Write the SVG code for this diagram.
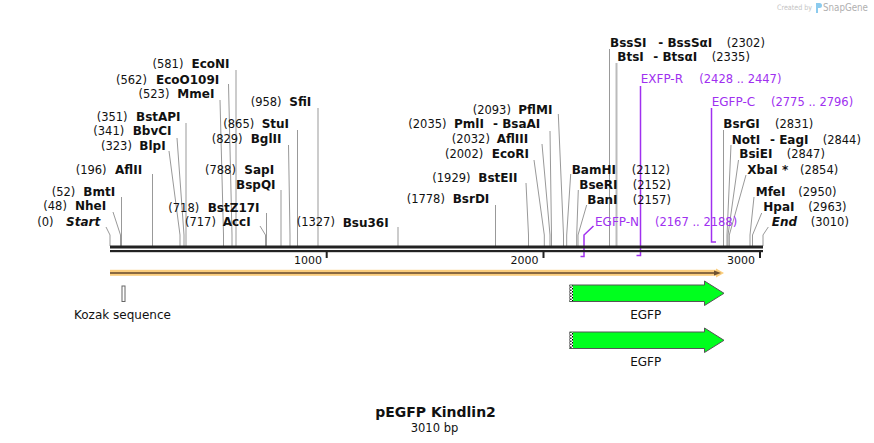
<svg xmlns="http://www.w3.org/2000/svg" width="874" height="443" viewBox="0 0 874 443">
<defs>
<style>
text{font-family:"DejaVu Sans","Liberation Sans",sans-serif;fill:#111}
.n{font-size:11.5px;font-weight:normal}
.b{font-size:12px;font-weight:bold}
.i{font-size:12px;font-weight:bold;font-style:italic}
.p{font-size:12px;fill:#a030f0}
.pn{font-size:11.5px;fill:#a030f0}
.cut{fill:none;stroke:#999;stroke-width:1}
.pr{fill:none;stroke:#a030f0;stroke-width:1.5}
.tk{font-size:11px}
.feat{font-size:12px}
</style>
<pattern id="hatch" width="4" height="3" patternUnits="userSpaceOnUse">
<rect width="4" height="3" fill="#fff"/>
<rect x="0" y="0" width="1.3" height="1.5" fill="#000"/>
<rect x="2.2" y="1.5" width="1.3" height="1.5" fill="#000"/>
</pattern>
</defs>
<rect width="874" height="443" fill="#fff"/>

<g id="logo">
<text x="777" y="10" textLength="35" lengthAdjust="spacingAndGlyphs" style="font-size:7.5px;fill:#c4c4c4">Created by</text>
<path d="M816,3 h3.5 a2.5,2.5 0 0 1 0,5 h-1.5 v5 h-2 z" fill="#8ccbee"/>
<text x="823" y="11" textLength="45" lengthAdjust="spacingAndGlyphs" style="font-size:10px;fill:#b0b0b0">SnapGene</text>
</g>

<g id="connectors">
<polyline class="cut" points="106,227 110,235 110,246"/>
<polyline class="cut" points="113,212 120.5,235 120.5,246"/>
<polyline class="cut" points="121.5,197 121.5,246"/>
<polyline class="cut" points="152.5,174 152.5,246"/>
<polyline class="cut" points="169,151 180,235 180,246"/>
<polyline class="cut" points="177,138 184,235 184,246"/>
<polyline class="cut" points="186,123 186,246"/>
<polyline class="cut" points="220,100 223.5,235 223.5,246"/>
<polyline class="cut" points="228.5,84 232,235 232,246"/>
<polyline class="cut" points="236,70 236,246"/>
<polyline class="cut" points="260,226 265.5,235 265.5,246"/>
<polyline class="cut" points="266.5,213 266.5,246"/>
<polyline class="cut" points="281,190 281,246"/>
<polyline class="cut" points="288.5,145 290,235 290,246"/>
<polyline class="cut" points="297.5,130 297.5,246"/>
<polyline class="cut" points="318,108 318,246"/>
<polyline class="cut" points="398,227 398,246"/>
<polyline class="cut" points="495.5,205 495.5,246"/>
<polyline class="cut" points="526,183 528.5,235 528.5,246"/>
<polyline class="cut" points="534,160 544.3,235 544.3,246"/>
<polyline class="cut" points="542,144 550,235 550,246"/>
<polyline class="cut" points="550,131 551.5,235 551.5,246"/>
<polyline class="cut" points="558.3,114 563.5,235 563.5,246"/>
<polyline class="cut" points="570.7,174 566.7,235 566.7,246"/>
<polyline class="cut" points="578.3,190 576.7,235 576.7,246"/>
<polyline class="cut" points="586.7,205 578,235 578,246"/>
<polyline class="cut" points="609.5,49 609.5,246"/>
<polyline class="cut" points="616.5,63 616.5,246" style="stroke:#bbb;stroke-width:2"/>
<polyline class="cut" points="723.5,130 723.5,246"/>
<polyline class="cut" points="731,145 727,235 727,246"/>
<polyline class="cut" points="738.5,160 728,235 728,246"/>
<polyline class="cut" points="746,175 729.3,235 729.3,246"/>
<polyline class="cut" points="754,197 750,235 750,246"/>
<polyline class="cut" points="761.7,213 752.5,235 752.5,246"/>
<polyline class="cut" points="768.3,227 763,235 763,246"/>
<polyline class="pr" points="640.5,86 640.5,255.5 636.5,255.5"/>
<polyline class="pr" points="711.5,108 711.5,242 716,242"/>
<polyline class="pr" points="593.5,226 584,235 584,256.5 580.5,256.5"/>
</g>

<g id="backbone">
<rect x="110" y="245.5" width="653" height="3" fill="#222"/>
<rect x="110" y="250" width="653" height="2.2" fill="#222"/>
<rect x="325.7" y="252" width="2" height="6" fill="#222"/>
<rect x="542.5" y="252" width="2" height="6" fill="#222"/>
<rect x="759" y="252" width="2" height="6" fill="#222"/>
<text class="tk" x="322" y="263.5" text-anchor="end">1000</text>
<text class="tk" x="538.5" y="263.5" text-anchor="end">2000</text>
<text class="tk" x="755" y="263.5" text-anchor="end">3000</text>
</g>

<g id="labels-left">
<text><tspan class="n" x="152.5" y="68">(581)</tspan><tspan class="b" x="191.5" y="68">EcoNI</tspan></text>
<text><tspan class="n" x="116" y="83.5">(562)</tspan><tspan class="b" x="156" y="83.5">EcoO109I</tspan></text>
<text><tspan class="n" x="138.5" y="97.5">(523)</tspan><tspan class="b" x="177.3" y="97.5">MmeI</tspan></text>
<text><tspan class="n" x="250.7" y="106">(958)</tspan><tspan class="b" x="289.3" y="106">SfiI</tspan></text>
<text><tspan class="n" x="96.7" y="121">(351)</tspan><tspan class="b" x="136" y="121">BstAPI</tspan></text>
<text><tspan class="n" x="223.3" y="128">(865)</tspan><tspan class="b" x="261.7" y="128">StuI</tspan></text>
<text><tspan class="n" x="93.3" y="135">(341)</tspan><tspan class="b" x="132.7" y="135">BbvCI</tspan></text>
<text><tspan class="n" x="211.7" y="142.5">(829)</tspan><tspan class="b" x="250.7" y="142.5">BglII</tspan></text>
<text><tspan class="n" x="101" y="150">(323)</tspan><tspan class="b" x="139.3" y="150">BlpI</tspan></text>
<text><tspan class="n" x="75.7" y="173.5">(196)</tspan><tspan class="b" x="115" y="173.5">AflII</tspan></text>
<text><tspan class="n" x="205" y="173.5">(788)</tspan><tspan class="b" x="244.3" y="173.5">SapI</tspan></text>
<text class="b" x="236" y="188.5">BspQI</text>
<text><tspan class="n" x="51.7" y="196">(52)</tspan><tspan class="b" x="83.3" y="196">BmtI</tspan></text>
<text><tspan class="n" x="43.3" y="210">(48)</tspan><tspan class="b" x="75" y="210">NheI</tspan></text>
<text><tspan class="n" x="168.3" y="211.5">(718)</tspan><tspan class="b" x="207.7" y="211.5">BstZ17I</tspan></text>
<text><tspan class="n" x="37.3" y="225.5">(0)</tspan><tspan class="i" x="66" y="225.5">Start</tspan></text>
<text><tspan class="n" x="185" y="226">(717)</tspan><tspan class="b" x="222.7" y="226">AccI</tspan></text>
<text><tspan class="n" x="296.7" y="226">(1327)</tspan><tspan class="b" x="342.7" y="226.5">Bsu36I</tspan></text>
</g>

<g id="labels-middle">
<text><tspan class="n" x="472.7" y="113.5">(2093)</tspan><tspan class="b" x="518.3" y="113.5">PflMI</tspan></text>
<text><tspan class="n" x="408.3" y="127.5">(2035)</tspan><tspan class="b" x="454" y="127.5">PmlI</tspan><tspan class="b" x="493" y="127.5">- BsaAI</tspan></text>
<text><tspan class="n" x="451.7" y="143">(2032)</tspan><tspan class="b" x="496.7" y="143">AflIII</tspan></text>
<text><tspan class="n" x="445" y="158">(2002)</tspan><tspan class="b" x="491.7" y="158">EcoRI</tspan></text>
<text><tspan class="n" x="432.3" y="181.5">(1929)</tspan><tspan class="b" x="478.3" y="181.5">BstEII</tspan></text>
<text><tspan class="n" x="406.7" y="203">(1778)</tspan><tspan class="b" x="452.7" y="203">BsrDI</tspan></text>
<text><tspan class="b" x="571.7" y="173.5">BamHI</tspan><tspan class="n" x="631.7" y="173.5">(2112)</tspan></text>
<text><tspan class="b" x="579.3" y="188.5">BseRI</tspan><tspan class="n" x="632.7" y="188.5">(2152)</tspan></text>
<text><tspan class="b" x="587.3" y="203.5">BanI</tspan><tspan class="n" x="632.7" y="203.5">(2157)</tspan></text>
<text><tspan class="p" x="595" y="226">EGFP-N</tspan><tspan class="pn" x="655" y="226">(2167 .. 2188)</tspan></text>
</g>

<g id="labels-right">
<text><tspan class="b" x="610" y="46.5">BssSI</tspan><tspan class="b" x="658.3" y="46.5">- BssSαI</tspan><tspan class="n" x="726.7" y="46.5">(2302)</tspan></text>
<text><tspan class="b" x="617.3" y="61">BtsI</tspan><tspan class="b" x="653.3" y="61">- BtsαI</tspan><tspan class="n" x="711.7" y="61">(2335)</tspan></text>
<text><tspan class="p" x="640.7" y="83">EXFP-R</tspan><tspan class="pn" x="699.3" y="83">(2428 .. 2447)</tspan></text>
<text><tspan class="p" x="711.7" y="106">EGFP-C</tspan><tspan class="pn" x="771" y="106">(2775 .. 2796)</tspan></text>
<text><tspan class="b" x="723.3" y="128">BsrGI</tspan><tspan class="n" x="775" y="128">(2831)</tspan></text>
<text><tspan class="b" x="731.7" y="143.5">NotI</tspan><tspan class="b" x="770" y="143.5">- EagI</tspan><tspan class="n" x="822.7" y="143.5">(2844)</tspan></text>
<text><tspan class="b" x="739.3" y="158">BsiEI</tspan><tspan class="n" x="786.7" y="158">(2847)</tspan></text>
<text><tspan class="b" x="747.3" y="173.5">XbaI *</tspan><tspan class="n" x="800" y="173.5">(2854)</tspan></text>
<text><tspan class="b" x="755.7" y="195.5">MfeI</tspan><tspan class="n" x="798.3" y="195.5">(2950)</tspan></text>
<text><tspan class="b" x="763.3" y="211">HpaI</tspan><tspan class="n" x="808.3" y="211">(2963)</tspan></text>
<text><tspan class="i" x="771.7" y="226">End</tspan><tspan class="n" x="810.7" y="226">(3010)</tspan></text>
</g>

<g id="orf">
<rect x="110" y="269.8" width="608" height="6" fill="#fbcd7c"/>
<polygon points="716,268.5 724,273 716,277.5" fill="#fbcd7c"/>
<rect x="110" y="272.2" width="606" height="1.6" fill="#6e5232"/>
<polygon points="714,270.5 721,273 714,275.5" fill="#6e5232"/>
</g>

<g id="kozak">
<rect x="122" y="286" width="3" height="15.5" fill="#fff" stroke="#666" stroke-width="1"/>
<text class="feat" x="74" y="318.5">Kozak sequence</text>
</g>

<g id="egfp1">
<polygon points="569.5,285 704.5,285 704.5,281 724,293.3 704.5,305.5 704.5,301.5 569.5,301.5" fill="#00ff1e" stroke="#555" stroke-width="1"/>
<rect x="569.5" y="285.5" width="3.5" height="15.5" fill="url(#hatch)"/>
<text class="feat" x="645.7" y="318.5" text-anchor="middle">EGFP</text>
</g>

<g id="egfp2">
<polygon points="569.5,332 704.5,332 704.5,328 724,340.3 704.5,352.5 704.5,348.5 569.5,348.5" fill="#00ff1e" stroke="#555" stroke-width="1"/>
<rect x="569.5" y="332.5" width="3.5" height="15.5" fill="url(#hatch)"/>
<text class="feat" x="645.7" y="365.5" text-anchor="middle">EGFP</text>
</g>

<g id="title">
<text x="435.5" y="417" text-anchor="middle" style="font-size:14px;font-weight:bold">pEGFP Kindlin2</text>
<text x="434.5" y="432" text-anchor="middle" style="font-size:11.5px">3010 bp</text>
</g>
</svg>
